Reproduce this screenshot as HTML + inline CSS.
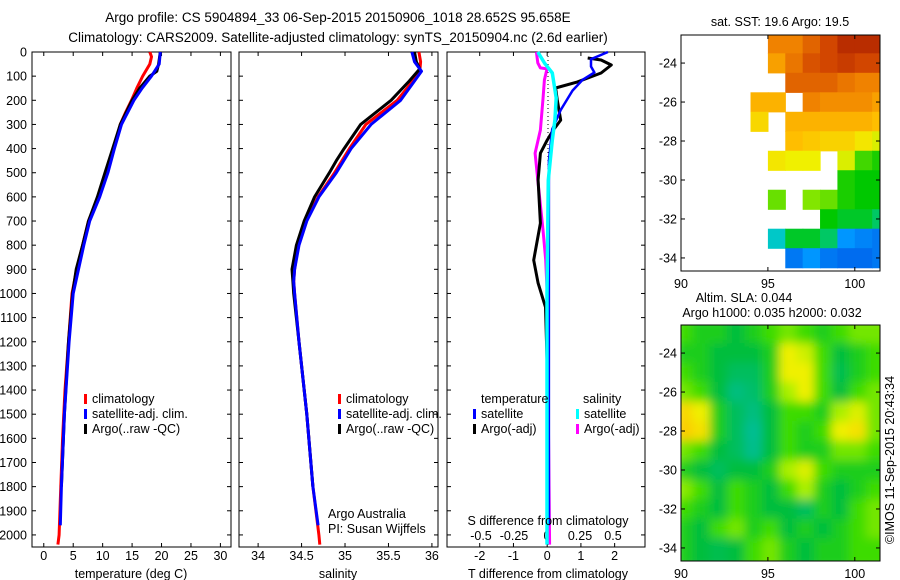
<!DOCTYPE html>
<html><head><meta charset="utf-8"><style>
html,body{margin:0;padding:0;background:#fff;}
svg{display:block;font-family:"Liberation Sans",sans-serif;}
text{font-size:12.5px;fill:#000;}
</style></head><body>
<svg id="fig" width="900" height="580" viewBox="0 0 900 580">
<text x="338" y="22" text-anchor="middle" style="font-size:13.5px">Argo profile: CS 5904894_33 06-Sep-2015 20150906_1018 28.652S 95.658E</text>
<text x="338" y="42" text-anchor="middle" style="font-size:13.5px">Climatology: CARS2009. Satellite-adjusted climatology: synTS_20150904.nc (2.6d earlier)</text>
<g id="g"></g>
</svg>
<script>
// ---------- data ----------
const depthTicks=[0,100,200,300,400,500,600,700,800,900,1000,1100,1200,1300,1400,1500,1600,1700,1800,1900,2000];
const tTicks=[0,5,10,15,20,25,30];
const sTicks=[34,34.5,35,35.5,36];
const sTickLabels=['34','34.5','35','35.5','36'];
const dTicks=[-2,-1,0,1,2];
const sdTicks=[-0.5,-0.25,0,0.25,0.5];
const sdTickLabels=['-0.5','-0.25','0','0.25','0.5'];

const tempClimDepth=[0,20,50,100,150,200,250,300,400,500,600,700,800,900,1000,1200,1400,1600,1800,2000,2040];
const tempClimVal=[18.0,18.3,18.0,16.8,15.8,14.9,13.9,13.0,11.9,10.7,9.3,7.6,6.6,5.6,4.8,4.2,3.6,3.2,2.9,2.6,2.4];
const tempSatDepth=[0,50,100,150,200,300,400,500,600,700,800,900,1000,1200,1500,1800,1960];
const tempSatVal=[19.8,19.6,18.3,16.7,15.3,13.2,12.0,10.9,9.5,7.8,6.8,5.9,5.0,4.3,3.5,3.0,2.8];
const tempArgoDepth=[0,50,80,100,150,200,300,400,500,600,700,800,900,1000,1200,1500,1800];
const tempArgoVal=[19.8,19.5,19.2,18.0,16.3,15.0,13.0,11.7,10.4,9.1,7.6,6.6,5.5,4.9,4.2,3.5,3.0];

const salClimDepth=[0,40,80,120,200,300,400,500,600,700,800,900,950,1000,1200,1500,1800,2000,2040];
const salClimVal=[35.85,35.87,35.86,35.78,35.60,35.24,35.05,34.88,34.69,34.55,34.46,34.42,34.41,34.42,34.47,34.56,34.63,34.70,34.71];
const salSatDepth=[0,40,80,120,200,300,400,500,600,700,800,900,950,1000,1200,1500,1800,1960];
const salSatVal=[35.77,35.80,35.88,35.80,35.64,35.30,35.07,34.90,34.70,34.56,34.47,34.42,34.41,34.42,34.47,34.56,34.63,34.69];
const salArgoDepth=[0,40,70,120,200,300,400,450,500,600,700,800,900,950,1000,1200,1500,1800];
const salArgoVal=[35.80,35.82,35.86,35.74,35.53,35.18,34.99,34.90,34.82,34.65,34.53,34.44,34.39,34.40,34.41,34.47,34.56,34.63];

const dtSatDepth=[0,30,60,85,115,160,240,320,450,700,1000,1500,1960];
const dtSatVal=[1.8,1.3,1.3,1.4,1.05,0.75,0.4,0.15,0.05,0.05,0.05,0.05,0.05];
const dtArgoDepth=[25,33,54,87,124,149,199,282,323,365,419,530,709,862,957,1057,1300,1750];
const dtArgoVal=[1.2,1.6,1.9,1.6,0.9,0.25,0.3,0.4,0.18,0.0,-0.2,-0.27,-0.2,-0.4,-0.27,-0.05,0.0,0.0];
const dsSatDepth=[0,45,87,190,282,365,530,1000,1500,2040];
const dsSatVal=[-0.07,-0.02,0.04,0.07,0.06,0.04,0.01,0.0,0.0,0.0];
const dsArgoDepth=[0,45,66,70,116,194,323,419,530,737,861,1100,1500,2040];
const dsArgoVal=[-0.08,-0.07,-0.05,0.0,-0.02,-0.03,-0.05,-0.09,-0.07,-0.03,-0.01,0.01,0.01,0.02];

const mapLonTicks=[90,95,100];
const mapLatTicks=[-24,-26,-28,-30,-32,-34];
const N=null;
const sstGrid=[
[N,N,N,N,N,.8,.8,.85,.9,.95,.95,.95],
[N,N,N,N,N,.75,.82,.88,.9,.92,.9,.9],
[N,N,N,N,N,N,.85,.85,.85,.82,.8,.8],
[N,N,N,N,.72,.72,N,.8,.78,.78,.78,.75],
[N,N,N,N,.65,N,.72,.72,.72,.72,.72,.7],
[N,N,N,N,N,N,.7,.68,.66,.66,.62,.58],
[N,N,N,N,N,.62,.6,.6,N,.58,.45,.42],
[N,N,N,N,N,N,N,N,N,.42,.4,.4],
[N,N,N,N,N,.48,N,.5,.48,.42,.4,.4],
[N,N,N,N,N,N,N,N,.4,.38,.38,.35],
[N,N,N,N,N,.3,.38,.38,.35,.25,.22,.2],
[N,N,N,N,N,N,.2,.25,.2,.18,.18,.2]];
const slaGrid=[
[.55,.5,.5,.45,.5,.55,.6,.55,.5,.55,.6,.6],
[.5,.5,.45,.45,.45,.5,.75,.7,.55,.45,.5,.55],
[.55,.5,.45,.4,.4,.5,.75,.75,.55,.42,.5,.55],
[.6,.55,.45,.35,.38,.5,.65,.75,.55,.45,.55,.6],
[.8,.75,.5,.4,.35,.45,.55,.55,.5,.65,.72,.6],
[.82,.78,.5,.4,.32,.45,.55,.5,.55,.75,.78,.6],
[.6,.55,.45,.4,.33,.45,.55,.5,.5,.6,.6,.55],
[.5,.45,.4,.45,.45,.5,.65,.72,.55,.5,.5,.5],
[.62,.55,.45,.55,.5,.45,.55,.65,.5,.45,.5,.55],
[.55,.5,.45,.55,.5,.45,.45,.4,.5,.45,.55,.6],
[.5,.45,.55,.6,.5,.55,.45,.5,.45,.5,.55,.6],
[.5,.45,.42,.45,.55,.6,.5,.45,.5,.5,.55,.55]];

// ---------- helpers ----------
const NS='http://www.w3.org/2000/svg';
const G=document.getElementById('g');
function mk(tag,attrs,parent){const e=document.createElementNS(NS,tag);for(const k in attrs)e.setAttribute(k,attrs[k]);(parent||G).appendChild(e);return e;}
function txt(x,y,s,anchor,parent){const t=mk('text',{x:x,y:y,'text-anchor':anchor||'middle'},parent);t.textContent=s;return t;}
const top0=52,bot0=547,dMax=2050;
const yD=d=>top0+(bot0-top0)*d/dMax;
function scaleX(x0,x1,v0,v1){return v=>x0+(x1-x0)*(v-v0)/(v1-v0);}
const xT=scaleX(32,231,-2,31.8);
const xS=scaleX(239,438,33.78,36.07);
const xDT=scaleX(447,645,-2.97,2.9);
const xDS=v=>547+132*v;
function frame(x0,x1,name){const r=mk('rect',{x:x0,y:top0,width:x1-x0,height:bot0-top0,fill:'none',stroke:'#000','stroke-width':1});}
function line(xs,ds,fx,color,w,name){let p='';for(let i=0;i<xs.length;i++)p+=(i?'L':'M')+fx(xs[i]).toFixed(1)+','+yD(ds[i]).toFixed(1);const e=mk('path',{d:p,fill:'none',stroke:color,'stroke-width':w,'stroke-linejoin':'round'});}
function yTicks(x0,x1,labels){depthTicks.forEach(d=>{const y=yD(d);mk('line',{x1:x0,y1:y,x2:x0+4,y2:y,stroke:'#000'});mk('line',{x1:x1,y1:y,x2:x1-4,y2:y,stroke:'#000'});if(labels){const t=txt(27,y+4.5,String(d),'end');}});}
function xTicks(ticks,labs,fx,name){ticks.forEach((v,i)=>{const x=fx(v);mk('line',{x1:x,y1:bot0,x2:x,y2:bot0-4,stroke:'#000'});mk('line',{x1:x,y1:top0,x2:x,y2:top0+4,stroke:'#000'});const t=txt(x,560,labs[i]);});}
function legendItem(x,y,color,label,name){mk('rect',{x:x,y:y-9,width:3,height:10,fill:color});const t=txt(x+8,y,label,'start');}

// ---------- panel 1 temperature ----------
frame(32,231,'temperature-panel');
yTicks(32,231,true);
xTicks(tTicks,tTicks.map(String),xT,'temperature-tick-label');
line(tempClimVal,tempClimDepth,xT,'#f00',3,'temperature-climatology-line');
line(tempArgoVal,tempArgoDepth,xT,'#000',3,'temperature-argo-line');
line(tempSatVal,tempSatDepth,xT,'#00f',3,'temperature-satellite-line');
txt(131,578,'temperature (deg C)');
legendItem(84,403,'#f00','climatology','legend-climatology');
legendItem(84,418,'#00f','satellite-adj. clim.','legend-satellite');
legendItem(84,433,'#000','Argo(..raw -QC)','legend-argo');

// ---------- panel 2 salinity ----------
frame(239,438,'salinity-panel');
yTicks(239,438,false);
xTicks(sTicks,sTickLabels,xS,'salinity-tick-label');
line(salClimVal,salClimDepth,xS,'#f00',3,'salinity-climatology-line');
line(salArgoVal,salArgoDepth,xS,'#000',3,'salinity-argo-line');
line(salSatVal,salSatDepth,xS,'#00f',3,'salinity-satellite-line');
txt(338,578,'salinity');
legendItem(338,403,'#f00','climatology','legend-climatology-2');
legendItem(338,418,'#00f','satellite-adj. clim.','legend-satellite-2');
legendItem(338,433,'#000','Argo(..raw -QC)','legend-argo-2');
txt(328,518,'Argo Australia','start');
txt(328,533,'PI: Susan Wijffels','start');

// ---------- panel 3 differences ----------
frame(447,645,'difference-panel');
yTicks(447,645,false);
xTicks(dTicks,dTicks.map(String),xDT,'t-difference-tick-label');
mk('line',{x1:548,y1:top0,x2:548,y2:bot0,stroke:'#000','stroke-dasharray':'1,3'});
sdTicks.forEach((v,i)=>{const t=txt(xDS(v),540,sdTickLabels[i]);});
line(dsArgoVal,dsArgoDepth,xDS,'#f0f',3,'s-diff-argo-line');
line(dtArgoVal,dtArgoDepth,xDT,'#000',3,'t-diff-argo-line');
line(dtSatVal,dtSatDepth,xDT,'#00f',2.5,'t-diff-satellite-line');
line(dsSatVal,dsSatDepth,xDS,'#0ff',3.5,'s-diff-satellite-line');
txt(548,525,'S difference from climatology');
txt(548,578,'T difference from climatology');
txt(481,403,'temperature','start');
txt(583,403,'salinity','start');
legendItem(473,418,'#00f','satellite','legend-t-satellite');
legendItem(473,433,'#000','Argo(-adj)','legend-t-argo');
legendItem(576,418,'#0ff','satellite','legend-s-satellite');
legendItem(576,433,'#f0f','Argo(-adj)','legend-s-argo');

// ---------- maps ----------
const mx0=681,mx1=880,lon0=90,lon1=101.45;
const xL=v=>mx0+(mx1-mx0)*(v-lon0)/(lon1-lon0);
function interp(stops,v){if(v<=stops[0][0])return stops[0][1];for(let i=1;i<stops.length;i++){if(v<=stops[i][0]){const a=stops[i-1],b=stops[i],f=(v-a[0])/(b[0]-a[0]);return a[1].map((c,k)=>Math.round(c+(b[1][k]-c)*f));}}return stops[stops.length-1][1];}
const jet=[[0.1,[0,60,220]],[0.25,[0,150,255]],[0.3,[0,200,200]],[0.4,[0,200,0]],[0.5,[130,230,0]],[0.6,[240,240,0]],[0.7,[255,190,0]],[0.8,[240,130,0]],[0.9,[210,70,0]],[1,[160,20,0]]];
const slaCm=[[0.3,[0,190,160]],[0.45,[0,190,60]],[0.55,[60,220,0]],[0.65,[170,240,0]],[0.75,[240,240,0]],[0.85,[255,190,0]]];
function drawMap(t0,t1,grid,cm,name,blur){
  const lat0=-22.56,lat1=-34.67;
  const yLat=v=>t0+(t1-t0)*(v-lat0)/(lat1-lat0);
  const cid='clip-'+name;
  const cp=mk('clipPath',{id:cid});mk('rect',{x:mx0,y:t0,width:mx1-mx0,height:t1-t0},cp);
  const grp=mk('g',{'clip-path':'url(#'+cid+')'});
  
  
  const inner=mk('g',blur?{filter:'url(#blur)'}:{},grp);
  grid.forEach((row,r)=>row.forEach((v,c)=>{if(v===null)return;const la=-22.5-r,x=xL(lon0+c)-(blur?6:0),y=yLat(la)-(blur&&r===0?6:0);
    const w=xL(lon0+c+1)-xL(lon0+c)+(blur?12:0.6),h=yLat(la-1)-yLat(la)+(blur?12:0.6);
    const col=interp(cm,v);const e=mk('rect',{x:x,y:y,width:w,height:h,fill:'rgb('+col.join(',')+')'},inner);
    
    }));
  const f=mk('rect',{x:mx0,y:t0,width:mx1-mx0,height:t1-t0,fill:'none',stroke:'#000'});
  
  mapLatTicks.forEach(v=>{const y=yLat(v);mk('line',{x1:mx0,y1:y,x2:mx0+4,y2:y,stroke:'#000'});mk('line',{x1:mx1,y1:y,x2:mx1-4,y2:y,stroke:'#000'});const t=txt(677,y+4.5,String(v),'end');});
  mapLonTicks.forEach(v=>{const x=xL(v);mk('line',{x1:x,y1:t1,x2:x,y2:t1-4,stroke:'#000'});mk('line',{x1:x,y1:t0,x2:x,y2:t0+4,stroke:'#000'});const t=txt(x,t1+17,String(v));});
}
const defs=mk('defs',{});const flt=mk('filter',{id:'blur',x:'-10%',y:'-10%',width:'120%',height:'120%'},defs);mk('feGaussianBlur',{stdDeviation:5},flt);
drawMap(35,271,sstGrid,jet,'sst-map',false);
drawMap(325,561,slaGrid,slaCm,'sla-map',true);
txt(780,26,'sat. SST: 19.6 Argo: 19.5');
txt(744,302,'Altim. SLA: 0.044');
txt(772,317,'Argo h1000: 0.035 h2000: 0.032');
const rt=txt(0,0,'©IMOS 11-Sep-2015 20:43:34');rt.setAttribute('transform','translate(894,460) rotate(-90)');

</script>
</body></html>
